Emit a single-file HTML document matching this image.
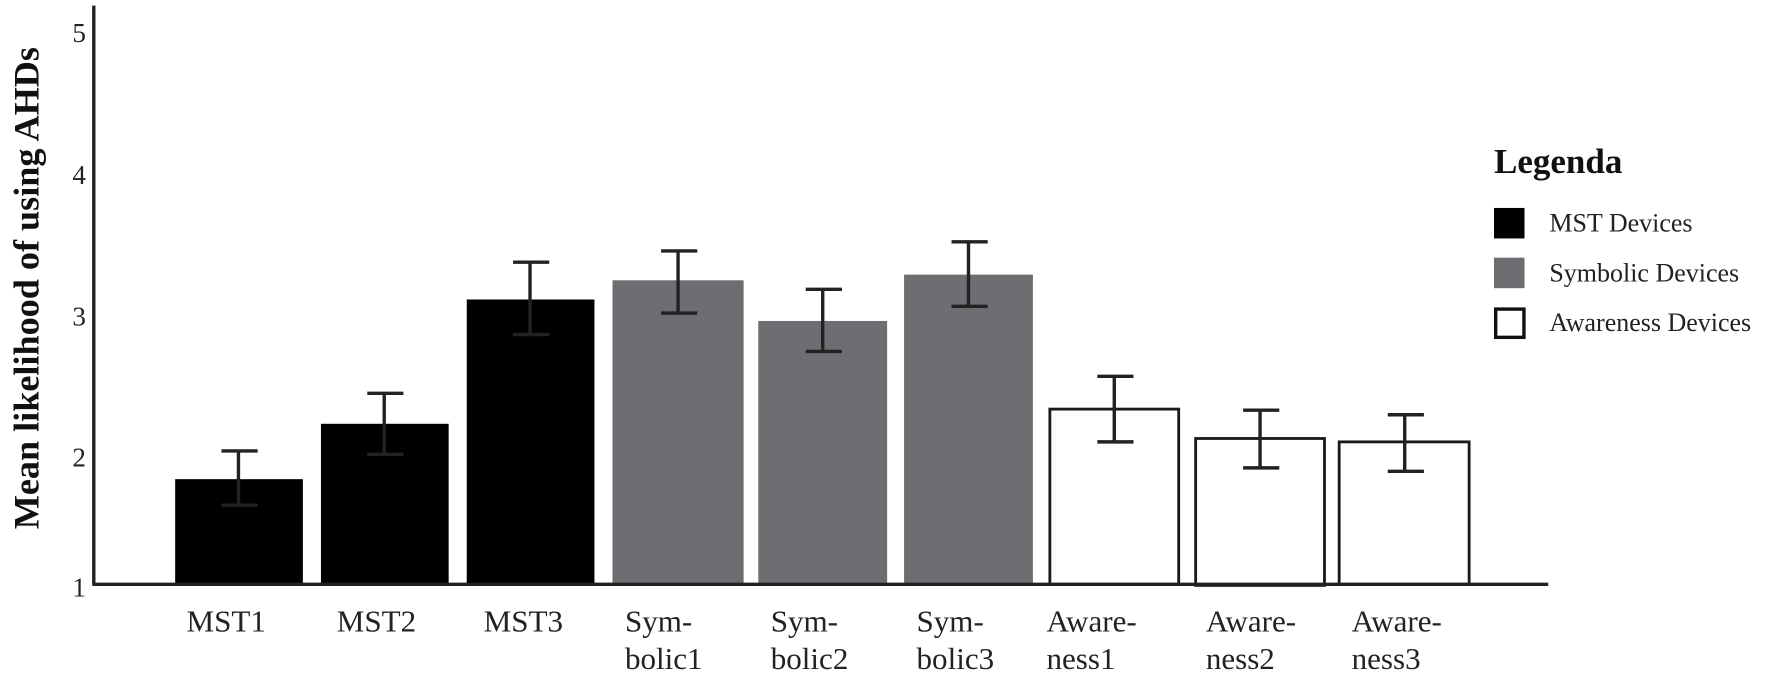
<!DOCTYPE html>
<html><head><style>html,body{margin:0;padding:0;background:#fff}svg{display:block}</style></head>
<body>
<svg width="1772" height="680" viewBox="0 0 1568 601.7" xmlns="http://www.w3.org/2000/svg" font-family="Liberation Serif, serif">
<rect width="1568" height="602" fill="#fff"/>
<g fill="#000">
<rect x="155" y="424" width="113" height="93"/>
<rect x="284" y="375" width="113" height="142"/>
<rect x="413" y="265" width="113" height="252"/>
</g>
<g fill="#6d6e71">
<rect x="542" y="248" width="116" height="269"/>
<rect x="671" y="284" width="114" height="233"/>
<rect x="800" y="243" width="114" height="274"/>
</g>
<g fill="#fff" stroke="#1a1a1a" stroke-width="2.5">
<rect x="929" y="362" width="114" height="155"/>
<rect x="1058" y="388" width="114" height="130"/>
<rect x="1185" y="391" width="115" height="126"/>
</g>
<g stroke="#222" stroke-width="3" fill="none">
<path d="M83 5V518M82 517H1370"/>
<path d="M211 399V447M196 399H228M196 447H228"/>
<path d="M340 348V402M325 348H357M325 402H357"/>
<path d="M469 232V296M454 232H486M454 296H486"/>
<path d="M600 222V277M585 222H617M585 277H617"/>
<path d="M728 256V311M713 256H745M713 311H745"/>
<path d="M857 214V271M842 214H874M842 271H874"/>
<path d="M986 333V391M971 333H1003M971 391H1003"/>
<path d="M1115 363V414M1100 363H1132M1100 414H1132"/>
<path d="M1243 367V417M1228 367H1260M1228 417H1260"/>
</g>
<g font-size="24" fill="#222" text-anchor="end">
<text x="76" y="37">5</text><text x="76" y="163">4</text><text x="76" y="288">3</text><text x="76" y="413">2</text><text x="76" y="528">1</text>
</g>
<text transform="translate(34,255) rotate(-90)" text-anchor="middle" font-size="32" font-weight="bold" fill="#111">Mean likelihood of using AHDs</text>
<g font-size="27.5" fill="#222" text-anchor="start">
<text x="165" y="559">MST1</text><text x="298" y="559">MST2</text><text x="428" y="559">MST3</text>
<text x="553" y="559">Sym-</text><text x="553" y="592">bolic1</text>
<text x="682" y="559">Sym-</text><text x="682" y="592">bolic2</text>
<text x="811" y="559">Sym-</text><text x="811" y="592">bolic3</text>
<text x="926" y="559">Aware-</text><text x="926" y="592">ness1</text>
<text x="1067" y="559">Aware-</text><text x="1067" y="592">ness2</text>
<text x="1196" y="559">Aware-</text><text x="1196" y="592">ness3</text>
</g>
<text x="1322" y="153" font-size="31" font-weight="bold" fill="#111">Legenda</text>
<rect x="1322" y="184" width="27" height="27" fill="#000"/>
<rect x="1322" y="228" width="27" height="27" fill="#6d6e71"/>
<rect x="1323.5" y="273.5" width="25" height="25" fill="#fff" stroke="#111" stroke-width="3"/>
<g font-size="23" fill="#222">
<text x="1371" y="205">MST Devices</text>
<text x="1371" y="249">Symbolic Devices</text>
<text x="1371" y="293">Awareness Devices</text>
</g>
</svg>
</body></html>
